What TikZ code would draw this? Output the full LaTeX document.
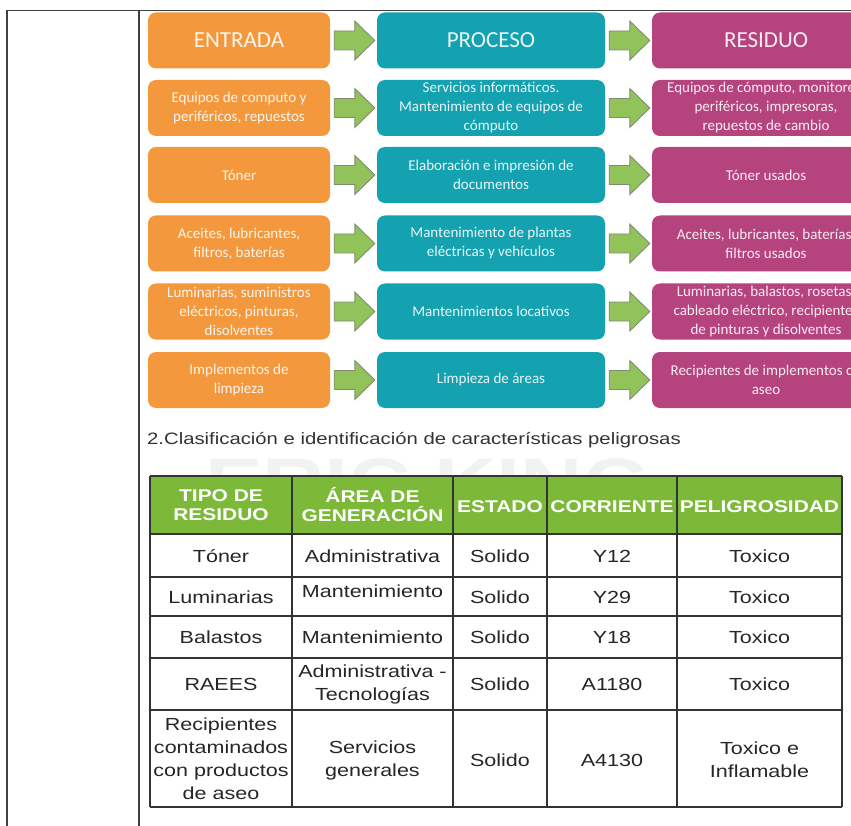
\documentclass[tikz,border=0pt]{standalone}
\usepackage{fontspec}
\setmainfont{Liberation Sans}
\newfontfamily\boxfont{Carlito}
\newfontfamily\tabfont[FakeStretch=1.23]{Liberation Sans}
\usetikzlibrary{calc}
\definecolor{orangeb}{HTML}{F4983E}
\definecolor{tealb}{HTML}{14A2B0}
\definecolor{magb}{HTML}{B5437E}
\definecolor{arrowg}{HTML}{92C35A}
\definecolor{arrowe}{HTML}{7F8C75}
\definecolor{tgreen}{HTML}{7DB939}
\definecolor{tline}{HTML}{333333}
\definecolor{ttext}{HTML}{262626}
\tikzset{
  box/.style={rounded corners=8pt, minimum height=56pt, inner sep=2pt, align=center,
    text=white, text opacity=0.9, font=\boxfont\fontsize{15}{19}\selectfont},
  hdr/.style={font=\boxfont\fontsize{23}{27}\selectfont},
  ebox/.style={box, fill=orangeb, minimum width=182pt},
  pbox/.style={box, fill=tealb, minimum width=228pt},
  rbox/.style={box, fill=magb, minimum width=228pt},
  barrow/.style={fill=arrowg, draw=arrowe, line width=0.9pt, line join=miter},
  frameline/.style={draw=black!75, line width=1.3pt},
  gridline/.style={draw=tline, line width=1.4pt},
  cell/.style={inner sep=0pt, align=center, text=ttext, font=\tabfont\fontsize{17.5}{23}\selectfont},
  hcell/.style={inner sep=0pt, align=center, text=white, font=\tabfont\bfseries\fontsize{17}{19}\selectfont},
}
\begin{document}
\begin{tikzpicture}[x=1pt,y=-1pt]
\useasboundingbox (0,0) rectangle (851,826);
\clip (0,0) rectangle (851,826);
\fill[white] (0,0) rectangle (851,826);

% frame
\draw[frameline] (7,10.5) -- (851,10.5);
\draw[frameline] (7,10.5) -- (7,826);
\draw[frameline] (139,10.5) -- (139,826);

% flow boxes
\node[ebox,hdr] (e1) at (239,40.5) {ENTRADA};
\node[pbox,hdr] (p1) at (491,40.5) {PROCESO};
\node[rbox,hdr] (r1) at (766,40.5) {RESIDUO};

\node[ebox] (e2) at (239,108) {Equipos de computo y\\periféricos, repuestos};
\node[pbox] (p2) at (491,108) {Servicios informáticos.\\Mantenimiento de equipos de\\cómputo};
\node[rbox] (r2) at (766,108) {Equipos de cómputo, monitores,\\periféricos, impresoras,\\repuestos de cambio};

\node[ebox] (e3) at (239,175) {Tóner};
\node[pbox] (p3) at (491,175) {Elaboración e impresión de\\documentos};
\node[rbox] (r3) at (766,175) {Tóner usados};

\node[ebox] (e4) at (239,243.5) {Aceites, lubricantes,\\filtros, baterías};
\node[pbox] (p4) at (491,243.5) {Mantenimiento de plantas\\eléctricas y vehículos};
\node[rbox] (r4) at (766,243.5) {Aceites, lubricantes, baterías,\\filtros usados};

\node[ebox] (e5) at (239,311.5) {Luminarias, suministros\\eléctricos, pinturas,\\disolventes};
\node[pbox] (p5) at (491,311.5) {Mantenimientos locativos};
\node[rbox] (r5) at (766,311.5) {Luminarias, balastos, rosetas,\\cableado eléctrico, recipientes\\de pinturas y disolventes};

\node[ebox] (e6) at (239,380) {Implementos de\\limpieza};
\node[pbox] (p6) at (491,380) {Limpieza de áreas};
\node[rbox] (r6) at (766,380) {Recipientes de implementos de\\aseo};

% block arrows
\foreach \i in {1,...,6}{
  \draw[barrow] let \p1=(e\i.east), \p2=(p\i.west) in
    (\x1+4pt,\y1+9.5pt) -- (\x2-22pt,\y1+9.5pt) -- (\x2-22pt,\y1+19.5pt) -- (\x2-2pt,\y1)
    -- (\x2-22pt,\y1-19.5pt) -- (\x2-22pt,\y1-9.5pt) -- (\x1+4pt,\y1-9.5pt) -- cycle;
  \draw[barrow] let \p1=(p\i.east), \p2=(r\i.west) in
    (\x1+4pt,\y1+9.5pt) -- (\x2-22pt,\y1+9.5pt) -- (\x2-22pt,\y1+19.5pt) -- (\x2-2pt,\y1)
    -- (\x2-22pt,\y1-19.5pt) -- (\x2-22pt,\y1-9.5pt) -- (\x1+4pt,\y1-9.5pt) -- cycle;
}

% title
\node[anchor=west, inner sep=0pt, text=black!80, font=\tabfont\fontsize{16.5}{20}\selectfont] (title) at (147,440)
  {2.Clasificación e identificación de características peligrosas};

% watermark
\node[anchor=base west, inner sep=0pt, text=black!5, font=\tabfont\bfseries\fontsize{70}{70}\selectfont] (wm) at (205,507) {ERIC KING};

% table
\fill[tgreen] (150,476) rectangle (842,534);
\fill[white] (150,534) rectangle (842,807);
\foreach \yy in {476,534,577,616,658,710,807}{\draw[gridline] (150,\yy) -- (842,\yy);}
\foreach \xx in {150,292,453,547,677,842}{\draw[gridline] (\xx,476) -- (\xx,807);}

\node[hcell] (h1) at (221,505) {TIPO DE\\RESIDUO};
\node[hcell] (h2) at (372.5,505) {ÁREA DE\\GENERACIÓN};
\node[hcell] (h3) at (500,507) {ESTADO};
\node[hcell] (h4) at (612,507) {CORRIENTE};
\node[hcell] (h5) at (759.5,507) {PELIGROSIDAD};

\node[cell] (a1) at (221,556) {Tóner};
\node[cell] (b1) at (372.5,556) {Administrativa};
\node[cell] (c1) at (500,556) {Solido};
\node[cell] (d1) at (612,556) {Y12};
\node[cell] (f1) at (759.5,556) {Toxico};

\node[cell] (a2) at (221,597) {Luminarias};
\node[cell] (b2) at (372.5,591) {Mantenimiento};
\node[cell] (c2) at (500,597) {Solido};
\node[cell] (d2) at (612,597) {Y29};
\node[cell] (f2) at (759.5,597) {Toxico};

\node[cell] (a3) at (221,637) {Balastos};
\node[cell] (b3) at (372.5,637) {Mantenimiento};
\node[cell] (c3) at (500,637) {Solido};
\node[cell] (d3) at (612,637) {Y18};
\node[cell] (f3) at (759.5,637) {Toxico};

\node[cell] (a4) at (221,684) {RAEES};
\node[cell] (b4) at (372.5,684) {Administrativa -\\Tecnologías};
\node[cell] (c4) at (500,684) {Solido};
\node[cell] (d4) at (612,684) {A1180};
\node[cell] (f4) at (759.5,684) {Toxico};

\node[cell] (a5) at (221,758.5) {Recipientes\\contaminados\\con productos\\de aseo};
\node[cell] (b5) at (372.5,760) {Servicios\\generales};
\node[cell] (c5) at (500,760) {Solido};
\node[cell] (d5) at (612,760) {A4130};
\node[cell] (f5) at (759.5,760) {Toxico e\\Inflamable};
\end{tikzpicture}
\end{document}
